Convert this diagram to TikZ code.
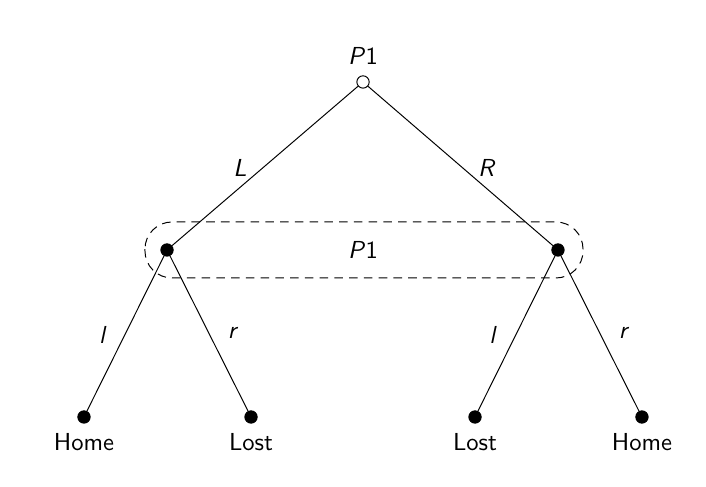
\documentclass[tikz,border=0pt]{standalone}
\begin{document}
\sffamily
\begin{tikzpicture}
\useasboundingbox (0,0) rectangle (10.086,-6.957);
\tikzset{
  chance/.style={draw, circle, fill=white, inner sep=0pt, minimum size=5pt},
  decision/.style={draw, circle, fill=black, inner sep=0pt, minimum size=5pt},
  leaf/.style={draw, circle, fill=black, inner sep=0pt, minimum size=5pt},
}
\node[decision] (L) at (2.386,-3.571) {};
\node[decision] (R) at (7.971,-3.571) {};
\node[leaf, label={[label distance=0.5pt]below:Home}] (LL) at (1.2,-5.957) {};
\node[leaf, label={[label distance=0.5pt]below:Lost}] (LR) at (3.586,-5.957) {};
\node[leaf, label={[label distance=0.5pt]below:Lost}] (RL) at (6.786,-5.957) {};
\node[leaf, label={[label distance=0.5pt]below:Home}] (RR) at (9.171,-5.957) {};

\path[draw] (L) -- (LL);
\path[draw] (L) -- (LR);
\path[draw] (R) -- (RL);
\path[draw] (R) -- (RR);

\node[chance, label={[label distance=1pt]above:\textsl{P}1}] (root) at (5.186,-1.171) {};
\path[draw] (root) -- (L);
\path[draw] (root) -- (R);

% information set
\draw[dashed, dash pattern=on 3.5pt off 2.5pt, rounded corners=11pt] (2.071,-3.171) rectangle (8.329,-3.971);
\node (info) at (5.186,-3.571) {\textsl{P}1};

\node (labL) at (3.429,-2.4) {\textsl{L}};
\node (labR) at (6.957,-2.4) {\textsl{R}};
\node (labl1) at (1.471,-4.786) {\textsl{l}};
\node (labr1) at (3.329,-4.757) {\textsl{r}};
\node (labl2) at (7.043,-4.786) {\textsl{l}};
\node (labr2) at (8.914,-4.757) {\textsl{r}};
\end{tikzpicture}
\end{document}
